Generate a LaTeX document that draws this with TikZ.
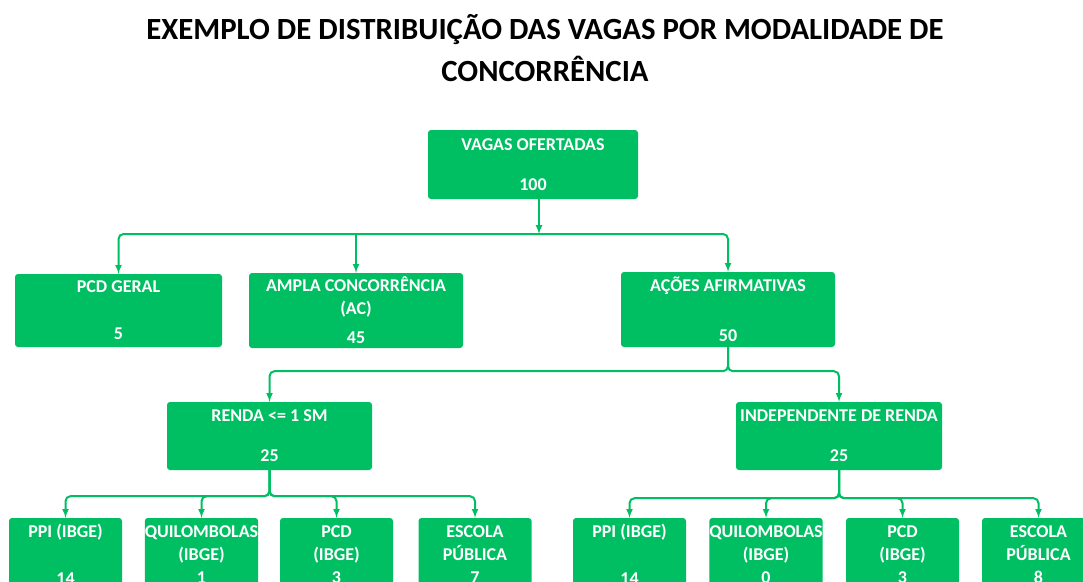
\documentclass[tikz,border=0pt]{standalone}
\usepackage{fontspec}
\setmainfont{Carlito}
\definecolor{verde}{RGB}{0,191,99}

\begin{document}
\begin{tikzpicture}[x=1pt, y=-1pt,
	caixa/.style={fill=verde, rounded corners=3pt, text=white, font=\bfseries\fontsize{18}{23}\selectfont, align=center, inner sep=0pt, minimum width=113pt, minimum height=73pt},
	liga/.style={draw=verde, line width=2pt, -latex, rounded corners=5pt}]
	\useasboundingbox (0,0) rectangle (1083,581);
	\clip (0,0) rectangle (1083,581);
	
	\node[font=\bfseries\fontsize{30.8}{42}\selectfont, align=center] (titulo) at (545,48) {EXEMPLO DE DISTRIBUIÇÃO DAS VAGAS POR MODALIDADE DE\\CONCORRÊNCIA};
	
	\node[caixa, minimum width=210pt, minimum height=69pt] (vo) at (533,164.5) {VAGAS OFERTADAS\\[17pt]100};
	\node[caixa, minimum width=207pt] (pg) at (118.5,310.5) {PCD GERAL\\[24pt]5};
	\node[caixa, minimum width=214pt, minimum height=75pt] (ac) at (356,310.5) {AMPLA CONCORRÊNCIA\\(AC)\\[6pt]45};
	\node[caixa, minimum width=214pt, minimum height=75pt] (af) at (728,309.5) {AÇÕES AFIRMATIVAS\\[27pt]50};
	\node[caixa, minimum width=205pt, minimum height=68pt] (r1) at (269.5,436) {RENDA <= 1 SM\\[17pt]25};
	\node[caixa, minimum width=206pt, minimum height=68pt] (ir) at (839,436) {INDEPENDENTE DE RENDA\\[17pt]25};
	
	\node[caixa] (ppi1) at (65.5,554.5) {PPI (IBGE)\\[24pt]14};
	\node[caixa] (qui1) at (201.5,554.5) {QUILOMBOLAS\\(IBGE)\\1};
	\node[caixa] (pcd1) at (336.5,554.5) {PCD\\(IBGE)\\3};
	\node[caixa] (esc1) at (475,554.5) {ESCOLA\\PÚBLICA\\7};
	
	\node[caixa] (ppi2) at (629.5,554.5) {PPI (IBGE)\\[24pt]14};
	\node[caixa] (qui2) at (766,554.5) {QUILOMBOLAS\\(IBGE)\\0};
	\node[caixa] (pcd2) at (902.5,554.5) {PCD\\(IBGE)\\3};
	\node[caixa] (esc2) at (1038.5,554.5) {ESCOLA\\PÚBLICA\\8};
	
	\coordinate (t) at (539,234);
	\draw[liga] (vo.south -| t) -- (t);
	\draw[liga] (t) -| (pg.north);
	\draw[liga] (t -| ac.north) -- (ac.north);
	\draw[liga] (t) -| (af.north);
	
	\draw[liga] (af.south) -- ++(0,24) -| (r1.north);
	\draw[liga] (af.south) -- ++(0,24) -| (ir.north);
	
	\foreach \n in {ppi1,qui1,pcd1,esc1}
		\draw[liga] (r1.south) -- ++(0,26) -| (\n.north);
	\foreach \n in {ppi2,qui2,pcd2,esc2}
		\draw[liga] (ir.south) -- ++(0,28) -| (\n.north);
\end{tikzpicture}
\end{document}
